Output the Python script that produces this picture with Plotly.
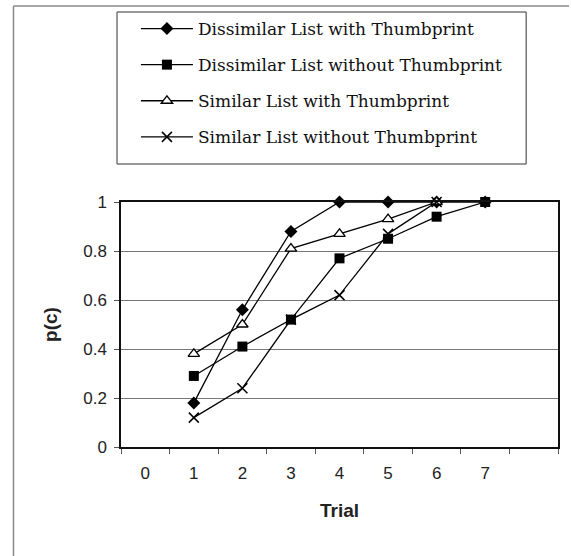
import plotly.graph_objects as go

trials = [1, 2, 3, 4, 5, 6, 7]
dis_with = [0.18, 0.56, 0.88, 1.0, 1.0, 1.0, 1.0]
dis_without = [0.29, 0.41, 0.52, 0.77, 0.85, 0.94, 1.0]
sim_with = [0.38, 0.50, 0.81, 0.87, 0.93, 1.0, None]
sim_without = [0.12, 0.24, 0.52, 0.62, 0.87, 1.0, None]
x_tick_labels = ["0", "1", "2", "3", "4", "5", "6", "7"]

names = ["Dissimilar List with Thumbprint", "Dissimilar List without Thumbprint",
         "Similar List with Thumbprint", "Similar List without Thumbprint"]
series = [dis_with, dis_without, sim_with, sim_without]
markers = [
    dict(symbol="diamond", size=10, color="black"),
    dict(symbol="square", size=10, color="black"),
    dict(symbol="triangle-up", size=10, color="white", line=dict(color="black", width=1.3)),
    dict(symbol="x-thin", size=10, color="black", line=dict(color="black", width=1.5)),
]

fig = go.Figure()
for i, (nm, ys, mk) in enumerate(zip(names, series, markers)):
    fig.add_trace(go.Scatter(
        x=trials, y=ys, name=nm, mode="lines+markers",
        line=dict(color="black", width=1.3), marker=mk,
        legendgroup=f"g{i}", connectgaps=False, cliponaxis=False,
    ))

W, H = 571, 556
L, R, T, B = 121, 11, 202, 109
pw, ph = W - L - R, H - T - B

def px_x(p):
    return (p - L) / pw

def px_y(p):
    return (H - B - p) / ph

fig.update_layout(
    width=W, height=H,
    margin=dict(l=L, r=R, t=T, b=B),
    paper_bgcolor="white", plot_bgcolor="white",
    font=dict(family="Liberation Sans, Arial", color="#222", size=17),
    legend=dict(
        x=px_x(136), y=px_y(11), xanchor="left", yanchor="top",
        bgcolor="rgba(0,0,0,0)", borderwidth=0,
        font=dict(family="DejaVu Serif, Liberation Serif", size=17, color="#111"),
        tracegroupgap=11, itemwidth=52,
    ),
    xaxis=dict(
        range=[-0.5, 8.5], tickmode="array", tickvals=list(range(8)),
        ticktext=x_tick_labels, ticks="", showgrid=False, zeroline=False,
        showline=True, mirror=True, linecolor="#111", linewidth=1.5,
        minor=dict(tickmode="array", tickvals=[v - 0.5 for v in range(10)],
                   ticks="outside", ticklen=5, tickcolor="#555", showgrid=False),
        tickfont=dict(size=17, color="#222"), ticklabelstandoff=10,
        title=dict(text="<b>Trial</b>", font=dict(size=19, color="#222"), standoff=22),
    ),
    yaxis=dict(
        range=[0, 1], dtick=0.2, tick0=0, ticks="outside", ticklen=5, tickcolor="#555",
        showgrid=True, gridcolor="#777", gridwidth=1, zeroline=False,
        showline=True, mirror=True, linecolor="#111", linewidth=1.5,
        tickfont=dict(size=17, color="#222"), ticklabelstandoff=4,
        title=dict(text="<b>p(c)</b>", font=dict(size=19, color="#222"), standoff=21),
    ),
    shapes=[
        dict(type="line", xref="paper", yref="paper", x0=px_x(13), x1=px_x(13),
             y0=px_y(6), y1=px_y(556), line=dict(color="#888", width=1.5)),
        dict(type="line", xref="paper", yref="paper", x0=px_x(13), x1=px_x(571),
             y0=px_y(6), y1=px_y(6), line=dict(color="#888", width=1.5)),
        dict(type="rect", xref="paper", yref="paper", x0=px_x(117), x1=px_x(528),
             y0=px_y(164), y1=px_y(12), line=dict(color="#333", width=1)),
    ],
)

fig.write_html("out.html", config={"displayModeBar": False},
               post_script="document.body.style.margin='0';document.documentElement.style.overflow='hidden';")
